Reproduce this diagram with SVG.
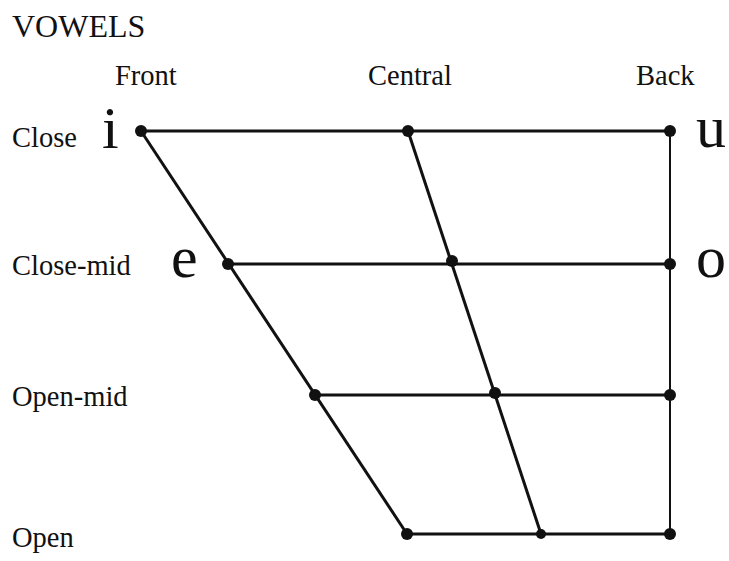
<svg xmlns="http://www.w3.org/2000/svg" width="729" height="561" viewBox="0 0 729 561" font-family="'Liberation Serif', 'DejaVu Serif', serif">
<style>
text{font-family:"Liberation Serif","DejaVu Serif",serif;fill:#111}
.lbl{font-size:28.5px}
.v{font-size:60px}
.ln{stroke:#111;stroke-width:3;fill:none}
.dot{fill:#111}
</style>
<rect width="729" height="561" fill="#fff"/>
<text x="12" y="37" style="font-size:32px">VOWELS</text>
<g id="heads">
<text class="lbl" x="115" y="85">Front</text>
<text class="lbl" x="368" y="85">Central</text>
<text class="lbl" x="636" y="85">Back</text>
</g>
<g id="rows">
<text class="lbl" x="12" y="147">Close</text>
<text class="lbl" x="12" y="275">Close-mid</text>
<text class="lbl" x="12" y="406">Open-mid</text>
<text class="lbl" x="12" y="547">Open</text>
</g>
<g id="connectors">
<line class="ln" x1="141" y1="131" x2="670" y2="131"/>
<line class="ln" x1="228" y1="264" x2="670" y2="264"/>
<line class="ln" x1="315" y1="395" x2="670" y2="395"/>
<line class="ln" x1="407" y1="534" x2="670" y2="534"/>
<line class="ln" x1="141" y1="131" x2="407" y2="534"/>
<line class="ln" x1="408" y1="131" x2="541" y2="534"/>
<line class="ln" x1="670" y1="131" x2="670" y2="534" style="stroke-width:2"/>
</g>
<g id="node-i"><circle class="dot" cx="141" cy="131" r="6"/><text class="v" x="102" y="148">i</text></g>
<g id="node-close-central"><circle class="dot" cx="408" cy="131" r="6"/></g>
<g id="node-u"><circle class="dot" cx="670" cy="131" r="6"/><text class="v" x="696" y="147">u</text></g>
<g id="node-e"><circle class="dot" cx="228" cy="264" r="6"/><text class="v" x="171" y="277">e</text></g>
<g id="node-closemid-central"><circle class="dot" cx="452" cy="261" r="6"/></g>
<g id="node-o"><circle class="dot" cx="670" cy="264" r="6"/><text class="v" x="696" y="277">o</text></g>
<g id="node-openmid-front"><circle class="dot" cx="315" cy="395" r="6"/></g>
<g id="node-openmid-central"><circle class="dot" cx="495" cy="393" r="6"/></g>
<g id="node-openmid-back"><circle class="dot" cx="670" cy="395" r="6"/></g>
<g id="node-open-front"><circle class="dot" cx="407" cy="534" r="6"/></g>
<g id="node-open-central"><circle class="dot" cx="541" cy="534" r="5"/></g>
<g id="node-open-back"><circle class="dot" cx="670" cy="534" r="6"/></g>
</svg>
